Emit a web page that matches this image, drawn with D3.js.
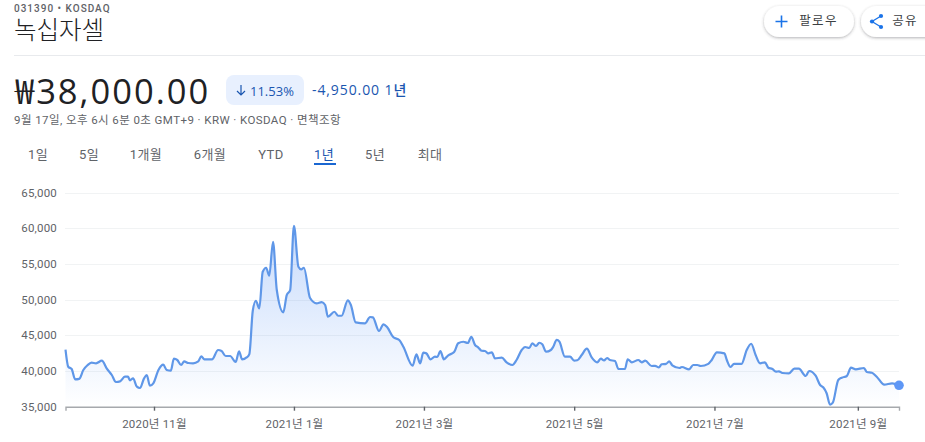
<!DOCTYPE html>
<html>
<head>
<meta charset="utf-8">
<style>
html, body { margin: 0; padding: 0; background: #fff; overflow: hidden; }
svg { display: block; }
text { font-family: Roboto, "Noto Sans CJK KR", sans-serif; }
.axis text { font-size: 11.5px; fill: #5f6368; letter-spacing: 0.2px; }
.tab { font-size: 13px; font-weight: 400; fill: #5f6368; text-anchor: middle; letter-spacing: 0.4px; }
</style>
</head>
<body>
<svg id="chart" width="925" height="442"></svg>
<script src="https://d3js.org/d3.v7.min.js"></script>
<script>
// trading-session position of each point (0 = first session)
var sessions = [
  0, 0.8, 1.8, 2.8, 4, 5.2, 6.4, 7.6, 8.9, 10.6, 12, 13.5, 14.7, 15.9, 17.3, 18.2, 18.8, 19.7, 20.8, 21.7,
  22.9, 23.7, 24.6, 25.6, 27.1, 28.5, 29.5, 30.7, 31.6, 32.6, 33.7, 34.6, 35.8, 37.2, 38.7, 39.6, 40.5, 42.7, 44.5, 45.5,
  46.7, 48, 49.6, 50.6, 51.5, 52.8, 53.6, 54.6, 55.5, 56.5, 57.5, 58.5, 59.4, 60.5, 61.6, 63.5, 64.5, 65.5, 66.6, 67.9,
  68.7, 69.5, 71.3, 73.2, 74.7, 75.7, 76.5, 78.4, 79.5, 80.5, 82.3, 83.2, 84.6, 87.3, 88.8, 89.6, 91.4, 92.7, 93.8, 95.6,
  97.3, 98.5, 101.2, 102.3, 103.4, 104.3, 105.2, 106.4, 107.7, 108.4, 109.3, 110.3, 111.6, 113.3, 114.5, 116, 117.3, 118.3, 119.4, 120.3,
  121.3, 122.3, 123.3, 124.3, 125.2, 127.2, 128.6, 130.3, 131.5, 133, 134, 135.2, 136.1, 137.2, 138.1, 139, 140.1, 141.5, 142.2, 143.2,
  144, 145.6, 147.1, 148.3, 149.2, 150.5, 152, 153.4, 155, 156.1, 157, 157.9, 158.7, 160.2, 161.2, 163.1, 163.9, 165.1, 167, 168,
  169, 170.9, 171.9, 173, 173.8, 175.1, 176, 176.9, 179, 179.7, 181.8, 183, 184.2, 185.2, 187.4, 188.4, 189.9, 192.1, 192.8, 193.9,
  194.9, 197.1, 198.6, 199.9, 201.2, 202.5, 203.9, 204.9, 206.1, 207.1, 208, 209, 210.9, 212.5, 213.8, 215.8, 216.8, 218.7, 220, 220.9,
  221.9, 222.9, 223.7, 225.3, 226.3, 227.8, 229, 230.4, 232.8, 233.6, 235.1, 236.5, 238.7, 241, 243
];
var prices = [
  43000, 40600, 40280, 38830, 38900, 40140, 40800, 41160, 41080, 41440, 40370, 39440, 38460, 38550, 39200, 39200, 38700, 38970, 37800, 37620,
  38970, 39440, 37940, 38270, 40140, 40880, 40140, 40040, 41720, 41540, 40840, 41350, 41120, 41080, 41350, 42050, 41630, 41630, 42940, 42800,
  42100, 42100, 41260, 42750, 41630, 41900, 42370, 48440, 49840, 48770, 53900, 54460, 53340, 58100, 51340, 48220, 50640, 51340, 60340, 54600,
  54240, 54460, 50220, 49480, 49660, 49240, 47600, 48300, 47740, 47740, 49900, 49240, 46820, 46680, 47560, 47520, 45600, 46540, 46120, 44720,
  44340, 43400, 40740, 42330, 41080, 42560, 42470, 41640, 42000, 41960, 42800, 41640, 42200, 42660, 43880, 44100, 43920, 44800, 43640, 43320,
  42840, 42800, 42470, 42620, 41780, 41860, 41220, 40840, 41540, 42940, 43360, 43220, 43880, 43500, 43960, 43740, 42700, 42940, 43400, 44380,
  44100, 42000, 42000, 41440, 41500, 42240, 43120, 41900, 41220, 41720, 41500, 41820, 41540, 41400, 40280, 40280, 41640, 41220, 41540, 41220,
  41440, 40700, 40720, 40500, 40940, 41000, 41350, 40800, 40420, 40560, 40240, 40840, 40840, 40700, 41000, 41540, 42620, 42470, 41540, 40560,
  41000, 41000, 42940, 43820, 42240, 41080, 41220, 40460, 40280, 39900, 39950, 39720, 39670, 40320, 40320, 39300, 40000, 39340, 38040, 37720,
  36880, 35280, 35560, 38740, 39060, 39300, 40460, 40240, 40420, 39860, 39760, 39200, 38080, 38270, 38000
];
var yTicks = [35000, 40000, 45000, 50000, 55000, 60000, 65000];
var xTickSessions = [25.8, 66.6, 104.5, 148.3, 189.2, 231];
var xTickLabels = ["2020년 11월", "2021년 1월", "2021년 3월", "2021년 5월", "2021년 7월", "2021년 9월"];
var tabs = ["1일", "5일", "1개월", "6개월", "YTD", "1년", "5년", "최대"];
var tabCenters = [38, 89, 146, 210, 271, 324, 375, 430];

var svg = d3.select("#chart");
var defs = svg.append("defs");

var grad = defs.append("linearGradient").attr("id", "fade")
  .attr("x1", 0).attr("y1", 0).attr("x2", 0).attr("y2", 1);
grad.append("stop").attr("offset", "0%").attr("stop-color", "#4285f4").attr("stop-opacity", 0.3);
grad.append("stop").attr("offset", "100%").attr("stop-color", "#4285f4").attr("stop-opacity", 0);

var shadow = defs.append("filter").attr("id", "btnShadow")
  .attr("x", "-20%").attr("y", "-30%").attr("width", "140%").attr("height", "170%");
shadow.append("feDropShadow").attr("dx", 0).attr("dy", 1).attr("stdDeviation", 1.5)
  .attr("flood-color", "#3c4043").attr("flood-opacity", 0.4);

// header
svg.append("text").attr("x", 14).attr("y", 11.5).text("031390 • KOSDAQ")
  .style("font-size", "10px").style("font-weight", 500).style("letter-spacing", "1px").style("fill", "#5f6368");
svg.append("text").attr("x", 14).attr("y", 39).text("녹십자셀")
  .style("font-size", "24.5px").style("font-weight", 300).style("fill", "#202124");
svg.append("line").attr("x1", 14).attr("x2", 925).attr("y1", 55.5).attr("y2", 55.5).attr("stroke", "#e8eaed");

// follow / share buttons
svg.append("rect").attr("x", 764).attr("y", 6).attr("width", 90).attr("height", 31).attr("rx", 15.5)
  .attr("fill", "#fff").attr("filter", "url(#btnShadow)");
svg.append("rect").attr("x", 861).attr("y", 6).attr("width", 80).attr("height", 31).attr("rx", 15.5)
  .attr("fill", "#fff").attr("filter", "url(#btnShadow)");
svg.append("path").attr("d", "M781.5 15.5v12M775.5 21.5h12").attr("stroke", "#1a73e8").attr("stroke-width", 1.6).attr("fill", "none");
svg.append("path").attr("d", "M881 16l-9 5.5 9 5.5").attr("stroke", "#1a73e8").attr("stroke-width", 1.3).attr("fill", "none");
[[881, 16], [872, 21.5], [881, 27]].forEach(function (p) {
  svg.append("circle").attr("cx", p[0]).attr("cy", p[1]).attr("r", 2.1).attr("fill", "#1a73e8");
});
svg.append("text").attr("x", 818.5).attr("y", 25).attr("text-anchor", "middle").text("팔로우")
  .style("font-size", "12.5px").style("letter-spacing", "1.3px").style("fill", "#3c4043");
svg.append("text").attr("x", 905).attr("y", 25).attr("text-anchor", "middle").text("공유")
  .style("font-size", "12.5px").style("letter-spacing", "1.3px").style("fill", "#3c4043");

// price row
svg.append("text").attr("x", 15).attr("y", 103.5).text("₩38,000.00")
  .style("font-family", '"Open Sans", "Noto Sans CJK KR", sans-serif')
  .style("font-size", "34.5px").style("fill", "#202124").style("letter-spacing", "2px");
svg.append("rect").attr("x", 226).attr("y", 75).attr("width", 78).attr("height", 30).attr("rx", 8).attr("fill", "#e8f0fe");
svg.append("path").attr("d", "M241 85v10M237 91l4 4 4-4").attr("stroke", "#1a56b0").attr("stroke-width", 1.2).attr("fill", "none");
svg.append("text").attr("x", 250).attr("y", 96).text("11.53%")
  .style("font-family", '"Open Sans", "Noto Sans CJK KR", sans-serif')
  .style("font-size", "13px").style("font-weight", 500).style("fill", "#1a56b0");
svg.append("text").attr("x", 312).attr("y", 95).text("-4,950.00 1년")
  .style("font-family", '"Open Sans", "Noto Sans CJK KR", sans-serif')
  .style("font-size", "14px").style("font-weight", 500).style("letter-spacing", "0.9px").style("fill", "#1a56b0");
svg.append("text").attr("x", 14).attr("y", 124).text("9월 17일, 오후 6시 6분 0초 GMT+9 · KRW · KOSDAQ · 면책조항")
  .style("font-size", "11.5px").style("letter-spacing", "0.42px").style("fill", "#5f6368");

// range tabs
svg.selectAll(".tab").data(tabs).enter().append("text")
  .attr("class", "tab")
  .attr("x", function (d, i) { return tabCenters[i]; })
  .attr("y", 159)
  .style("fill", function (d) { return d === "1년" ? "#1a56b0" : null; })
  .text(function (d) { return d; });
svg.append("rect").attr("x", 314).attr("y", 163).attr("width", 22).attr("height", 2).attr("fill", "#1a67d2");

// chart
var x = d3.scaleLinear().domain([0, 243]).range([65.5, 899]);
var y = d3.scaleLinear().domain([35000, 65000]).range([406.7, 192.5]);

svg.append("g").selectAll("line").data(yTicks.slice(1)).enter().append("line")
  .attr("x1", 65).attr("x2", 899)
  .attr("y1", function (d) { return Math.round(y(d)) + 0.5; })
  .attr("y2", function (d) { return Math.round(y(d)) + 0.5; })
  .attr("stroke", "#f1f3f4");

var points = sessions.map(function (s, i) { return [s, prices[i]]; });

var area = d3.area()
  .x(function (d) { return x(d[0]); })
  .y0(y(35000))
  .y1(function (d) { return y(d[1]); })
  .curve(d3.curveMonotoneX);
var line = d3.line()
  .x(function (d) { return x(d[0]); })
  .y(function (d) { return y(d[1]); })
  .curve(d3.curveMonotoneX);

svg.append("path").datum(points).attr("d", area).attr("fill", "url(#fade)");
svg.append("path").datum(points).attr("d", line)
  .attr("fill", "none").attr("stroke", "#5f97e8").attr("stroke-width", 2.2).attr("stroke-linejoin", "round");

var yAxis = d3.axisLeft(y).tickValues(yTicks).tickSize(0).tickPadding(0).tickFormat(d3.format(","));
svg.append("g").attr("class", "axis").attr("transform", "translate(57,0)").call(yAxis)
  .call(function (g) { g.select(".domain").remove(); });

var xAxis = d3.axisBottom(x).tickValues(xTickSessions).tickSize(4).tickPadding(9)
  .tickFormat(function (d, i) { return xTickLabels[i]; });
var xg = svg.append("g").attr("class", "axis").attr("transform", "translate(0,406.7)").call(xAxis);
xg.select(".domain").attr("stroke", "#a6a9ad").attr("stroke-width", 1.4);
xg.selectAll(".tick line").attr("stroke", "#5f6368").attr("stroke-width", 1.4);

svg.append("circle")
  .attr("cx", x(sessions[sessions.length - 1]))
  .attr("cy", y(prices[prices.length - 1]))
  .attr("r", 4.8).attr("fill", "#5e97f6");
</script>
</body>
</html>
